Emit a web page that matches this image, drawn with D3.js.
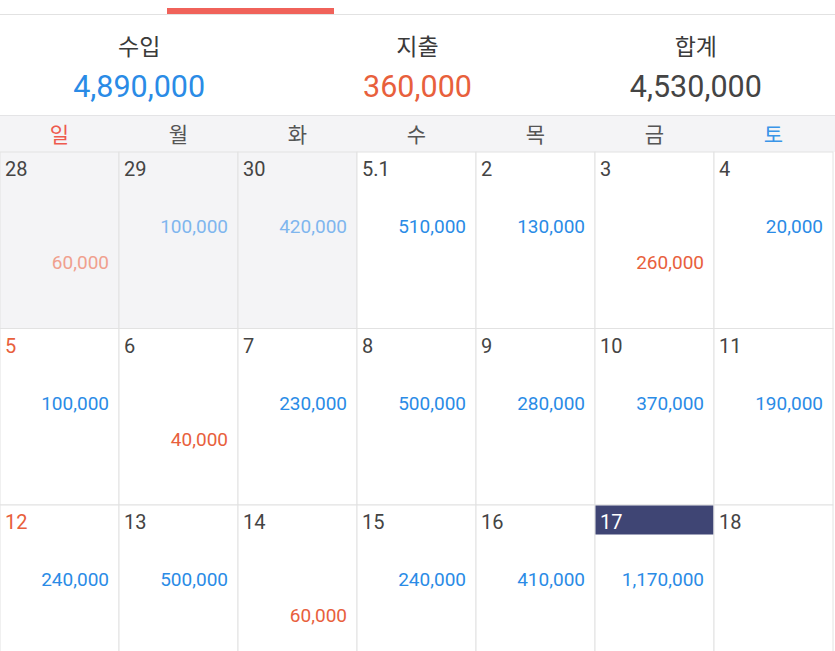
<!DOCTYPE html>
<html><head><meta charset="utf-8">
<script src="https://cdn.jsdelivr.net/npm/d3@7"></script>
<style>body{margin:0;background:#fff}text{font-family:Roboto,"Noto Sans CJK KR",sans-serif}</style>
</head><body><div id="chart"></div>
<script>
const weekdays = ["일","월","화","수","목","금","토"]
const dayLabels = ["28","29","30","5.1","2","3","4","5","6","7","8","9","10","11","12","13","14","15","16","17","18"]
const prevMonth = [true,true,true,false,false,false,false,false,false,false,false,false,false,false,false,false,false,false,false,false,false]
const income = [null,100000,420000,510000,130000,null,20000,100000,null,230000,500000,280000,370000,190000,240000,500000,null,240000,410000,1170000,null]
const expense = [60000,null,null,null,null,260000,null,null,40000,null,null,null,null,null,null,null,60000,null,null,null,null]
const summaryLabels = ["수입","지출","합계"]
const summaryValues = [4890000,360000,4530000]
const today = "17"

const width = 835, height = 651
const fmt = d3.format(",")
const blue = "#2a8be6", red = "#e8603c", dark = "#3a3a3a"

const svg = d3.select("#chart").append("svg")
    .attr("width", width).attr("height", height)

// top tab bar
svg.append("line").attr("x1", 0).attr("x2", width).attr("y1", 14.5).attr("y2", 14.5)
    .attr("stroke", "#e2e2e2")
svg.append("rect").attr("x", 167).attr("y", 8).attr("width", 167).attr("height", 6).attr("fill", "#f0625a")

// summary
let sx = d3.scaleBand().domain(summaryLabels).range([0, width])
summaryLabels.forEach((l, i) => {
    const cx = sx(l) + sx.bandwidth() / 2
    svg.append("text").attr("x", cx).attr("y", 55).attr("text-anchor", "middle")
        .attr("font-size", 23).attr("fill", dark).text(l)
    svg.append("text").attr("x", cx).attr("y", 97).attr("text-anchor", "middle")
        .attr("font-size", 30.5).attr("fill", [blue, red, "#444"][i]).text(fmt(summaryValues[i]))
})

// weekday strip
const gridRight = 833
let x = d3.scaleBand().domain(d3.range(7)).range([0, gridRight])
svg.append("rect").attr("x", 0).attr("y", 115).attr("width", width).attr("height", 37).attr("fill", "#f4f4f6")
svg.append("line").attr("x1", 0).attr("x2", width).attr("y1", 115.5).attr("y2", 115.5).attr("stroke", "#e4e4e6")
weekdays.forEach((w, i) => {
    svg.append("text").attr("x", x(i) + x.bandwidth() / 2).attr("y", 142).attr("text-anchor", "middle")
        .attr("font-size", 21)
        .attr("fill", i == 0 ? "#ee5a4e" : i == 6 ? "#3a95e8" : "#555").text(w)
})

// grid
const rows = Math.ceil(dayLabels.length / 7)
let y = d3.scaleBand().domain(d3.range(rows)).range([152, 152 + 176.5 * rows])

const cells = svg.append("g").selectAll("g").data(dayLabels).join("g")
    .attr("transform", (d, i) => "translate(" + x(i % 7) + "," + y(Math.floor(i / 7)) + ")")

cells.append("rect").attr("width", x.bandwidth()).attr("height", y.bandwidth())
    .attr("fill", (d, i) => prevMonth[i] ? "#f4f4f6" : "#fff")
    .attr("stroke", "#e2e2e2")

cells.filter(d => d == today).append("rect")
    .attr("x", 0.5).attr("y", 0.5).attr("width", x.bandwidth() - 1).attr("height", 29).attr("fill", "#3f4574")

cells.append("text").attr("x", 5).attr("y", 24).attr("font-size", 20)
    .attr("fill", (d, i) => d == today ? "#fff" : i % 7 == 0 && !prevMonth[i] ? red : "#444")
    .text(d => d)

cells.append("text").attr("x", x.bandwidth() - 10).attr("y", 81).attr("text-anchor", "end")
    .attr("font-size", 19)
    .attr("fill", (d, i) => prevMonth[i] ? "#7fb6ee" : blue)
    .text((d, i) => income[i] == null ? "" : fmt(income[i]))

cells.append("text").attr("x", x.bandwidth() - 10).attr("y", 117).attr("text-anchor", "end")
    .attr("font-size", 19)
    .attr("fill", (d, i) => prevMonth[i] ? "#f0a08e" : red)
    .text((d, i) => expense[i] == null ? "" : fmt(expense[i]))
</script></body></html>
